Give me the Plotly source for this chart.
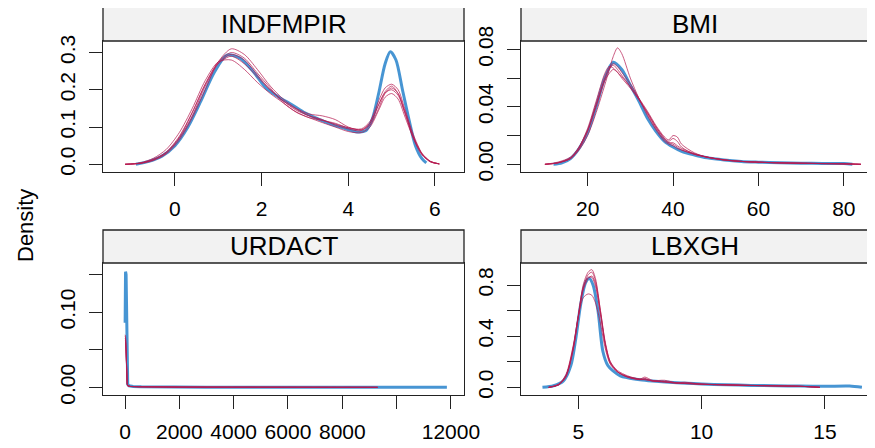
import plotly.graph_objects as go

# ---------------- data ----------------
panel_titles = ["INDFMPIR", "BMI", "URDACT", "LBXGH"]

# INDFMPIR
ind_obs_x = [-0.9, -0.6, -0.3, 0.0, 0.3, 0.6, 0.9, 1.2, 1.5, 1.8, 2.1, 2.4, 2.7, 3.0, 3.3, 3.6, 3.9, 4.2, 4.4, 4.55, 4.7, 4.85, 4.97, 5.1, 5.25, 5.4, 5.55, 5.7, 5.8]
ind_obs_y = [0.0, 0.008, 0.022, 0.05, 0.1, 0.17, 0.245, 0.293, 0.285, 0.25, 0.205, 0.18, 0.16, 0.138, 0.122, 0.108, 0.097, 0.087, 0.09, 0.12, 0.19, 0.27, 0.302, 0.28, 0.2, 0.12, 0.05, 0.015, 0.004]
ind_imp_x = [-1.15, -0.8, -0.5, -0.2, 0.1, 0.4, 0.7, 1.0, 1.3, 1.6, 1.9, 2.2, 2.5, 2.8, 3.1, 3.4, 3.7, 4.0, 4.3, 4.5, 4.7, 4.85, 5.0, 5.15, 5.3, 5.5, 5.7, 5.9, 6.1]
ind_imp_1 = [0.0, 0.003, 0.012, 0.03, 0.07, 0.13, 0.21, 0.27, 0.29, 0.27, 0.235, 0.2, 0.17, 0.145, 0.13, 0.12, 0.105, 0.095, 0.09, 0.11, 0.16, 0.195, 0.21, 0.19, 0.14, 0.07, 0.025, 0.006, 0.001]
ind_imp_2 = [0.0, 0.002, 0.01, 0.028, 0.065, 0.125, 0.2, 0.275, 0.31, 0.295, 0.255, 0.21, 0.175, 0.15, 0.135, 0.13, 0.12, 0.1, 0.092, 0.105, 0.15, 0.19, 0.205, 0.19, 0.145, 0.075, 0.028, 0.007, 0.001]
ind_imp_3 = [0.0, 0.004, 0.016, 0.04, 0.085, 0.15, 0.225, 0.275, 0.28, 0.255, 0.22, 0.19, 0.165, 0.14, 0.125, 0.112, 0.1, 0.088, 0.085, 0.1, 0.145, 0.18, 0.19, 0.175, 0.13, 0.07, 0.027, 0.007, 0.001]
ind_imp_4 = [0.0, 0.003, 0.013, 0.033, 0.075, 0.14, 0.215, 0.275, 0.3, 0.285, 0.245, 0.205, 0.165, 0.14, 0.125, 0.118, 0.11, 0.098, 0.095, 0.115, 0.17, 0.205, 0.215, 0.2, 0.15, 0.08, 0.03, 0.008, 0.001]
ind_imp_5 = [0.0, 0.003, 0.012, 0.032, 0.072, 0.138, 0.215, 0.272, 0.295, 0.28, 0.24, 0.2, 0.17, 0.148, 0.13, 0.118, 0.108, 0.098, 0.093, 0.11, 0.16, 0.192, 0.2, 0.185, 0.14, 0.074, 0.028, 0.007, 0.001]

# BMI
bmi_obs_x = [12, 14, 16, 18, 20, 22, 24, 26, 28, 30, 32, 34, 36, 38, 40, 42, 45, 48, 52, 56, 60, 65, 70, 75, 80, 82]
bmi_obs_y = [0.0, 0.001, 0.004, 0.011, 0.022, 0.04, 0.06, 0.071, 0.066, 0.055, 0.044, 0.032, 0.023, 0.016, 0.012, 0.009, 0.0065, 0.0045, 0.003, 0.002, 0.0015, 0.001, 0.0008, 0.0006, 0.0005, 0.0]
bmi_imp_x = [10, 13, 16, 18, 20, 22, 24, 25, 26, 27, 28, 30, 32, 34, 36, 38, 39, 40, 41, 42, 45, 48, 52, 56, 60, 65, 70, 75, 80, 84]
bmi_imp_1 = [0, 0.001, 0.004, 0.01, 0.02, 0.036, 0.055, 0.065, 0.075, 0.081, 0.077, 0.06, 0.046, 0.034, 0.024, 0.016, 0.014, 0.013, 0.011, 0.01, 0.007, 0.005, 0.003, 0.002, 0.0015, 0.001, 0.0008, 0.0006, 0.0004, 0]
bmi_imp_2 = [0, 0.0015, 0.005, 0.012, 0.025, 0.044, 0.063, 0.068, 0.067, 0.064, 0.06, 0.053, 0.045, 0.036, 0.026, 0.018, 0.016, 0.018, 0.016, 0.012, 0.007, 0.005, 0.003, 0.002, 0.0015, 0.001, 0.0008, 0.0005, 0.0003, 0]
bmi_imp_3 = [0, 0.001, 0.004, 0.011, 0.023, 0.04, 0.058, 0.063, 0.066, 0.064, 0.061, 0.054, 0.046, 0.037, 0.027, 0.019, 0.017, 0.02, 0.019, 0.014, 0.008, 0.005, 0.0032, 0.002, 0.0014, 0.001, 0.0007, 0.0005, 0.0003, 0]
bmi_imp_4 = [0, 0.001, 0.0045, 0.012, 0.024, 0.042, 0.06, 0.067, 0.07, 0.068, 0.064, 0.056, 0.046, 0.035, 0.025, 0.017, 0.015, 0.015, 0.013, 0.011, 0.0075, 0.0048, 0.003, 0.002, 0.0015, 0.001, 0.0007, 0.0005, 0.0003, 0]
bmi_imp_5 = [0, 0.001, 0.004, 0.011, 0.023, 0.041, 0.059, 0.066, 0.069, 0.066, 0.062, 0.054, 0.045, 0.036, 0.026, 0.018, 0.015, 0.014, 0.012, 0.01, 0.007, 0.005, 0.003, 0.002, 0.0014, 0.001, 0.0007, 0.0005, 0.0003, 0]

# URDACT
urd_obs_x = [5, 10, 20, 40, 60, 80, 100, 150, 300, 600, 1000, 1500, 2000, 3000, 4000, 5000, 6000, 7000, 8000, 9000, 10000, 11000, 11850]
urd_obs_y = [0.086, 0.13, 0.154, 0.15, 0.085, 0.02, 0.004, 0.002, 0.0012, 0.0008, 0.0006, 0.0005, 0.0004, 0.0002, 0.0002, 0.0003, 0.0003, 0.0001, 0.0001, 0.0001, 0.0001, 0.0001, 0.0]
urd_imp_x = [5, 20, 40, 60, 80, 100, 200, 500, 1000, 2000, 4000, 6000, 8000, 9300]
urd_imp_1 = [0.07, 0.068, 0.05, 0.02, 0.005, 0.002, 0.0012, 0.0008, 0.0005, 0.0003, 0.0002, 0.0002, 0.0001, 0.0]
urd_imp_2 = [0.065, 0.064, 0.048, 0.019, 0.005, 0.002, 0.0012, 0.0008, 0.0005, 0.0003, 0.0002, 0.0002, 0.0001, 0.0]
urd_imp_3 = [0.06, 0.06, 0.045, 0.018, 0.004, 0.002, 0.0011, 0.0007, 0.0005, 0.0003, 0.0002, 0.0001, 0.0001, 0.0]
urd_imp_4 = [0.068, 0.066, 0.05, 0.02, 0.005, 0.002, 0.0012, 0.0008, 0.0005, 0.0003, 0.0002, 0.0002, 0.0001, 0.0]
urd_imp_5 = [0.063, 0.062, 0.047, 0.019, 0.005, 0.002, 0.0011, 0.0008, 0.0005, 0.0003, 0.0002, 0.0001, 0.0001, 0.0]

# LBXGH
gh_obs_x = [3.55, 4.0, 4.4, 4.7, 4.9, 5.1, 5.3, 5.45, 5.6, 5.8, 6.0, 6.2, 6.4, 6.7, 7.0, 7.5, 8.0, 9.0, 10.0, 11.0, 12.0, 13.0, 14.0, 15.0, 16.0, 16.5]
gh_obs_y = [0.0, 0.012, 0.05, 0.17, 0.38, 0.65, 0.82, 0.85, 0.8, 0.6, 0.28, 0.17, 0.13, 0.09, 0.075, 0.06, 0.05, 0.035, 0.026, 0.02, 0.015, 0.012, 0.01, 0.008, 0.01, 0.0]
gh_imp_x = [3.8, 4.2, 4.5, 4.8, 5.0, 5.2, 5.4, 5.55, 5.7, 5.9, 6.1, 6.3, 6.6, 7.0, 7.5, 7.7, 8.0, 8.5, 9.0, 9.3, 10.0, 11.0, 12.0, 13.0, 14.0, 14.8]
gh_imp_1 = [0, 0.02, 0.08, 0.3, 0.55, 0.8, 0.9, 0.92, 0.85, 0.6, 0.35, 0.2, 0.12, 0.08, 0.06, 0.07, 0.05, 0.045, 0.035, 0.04, 0.025, 0.02, 0.015, 0.012, 0.008, 0]
gh_imp_2 = [0, 0.025, 0.1, 0.33, 0.55, 0.7, 0.73, 0.72, 0.66, 0.5, 0.3, 0.18, 0.12, 0.085, 0.065, 0.06, 0.05, 0.04, 0.032, 0.03, 0.024, 0.018, 0.014, 0.011, 0.008, 0]
gh_imp_3 = [0, 0.02, 0.09, 0.32, 0.56, 0.78, 0.86, 0.86, 0.79, 0.57, 0.33, 0.19, 0.12, 0.08, 0.06, 0.06, 0.05, 0.042, 0.033, 0.035, 0.025, 0.019, 0.015, 0.012, 0.008, 0]
gh_imp_4 = [0, 0.018, 0.085, 0.3, 0.54, 0.77, 0.88, 0.9, 0.83, 0.6, 0.34, 0.2, 0.13, 0.09, 0.065, 0.08, 0.055, 0.045, 0.035, 0.03, 0.025, 0.02, 0.015, 0.011, 0.008, 0]
gh_imp_5 = [0, 0.02, 0.09, 0.31, 0.55, 0.76, 0.85, 0.87, 0.81, 0.58, 0.33, 0.19, 0.12, 0.082, 0.062, 0.065, 0.052, 0.055, 0.034, 0.032, 0.024, 0.019, 0.014, 0.011, 0.008, 0]

# ticks
ind_xticks = [0, 2, 4, 6]
ind_yticks = [0.0, 0.1, 0.2, 0.3]
ind_ytext = ["0.0", "0.1", "0.2", "0.3"]
bmi_xticks = [20, 40, 60, 80]
bmi_yticks = [0.0, 0.02, 0.04, 0.06, 0.08]
bmi_ytext = ["0.00", "", "0.04", "", "0.08"]
urd_xticks = [0, 2000, 4000, 6000, 8000, 10000, 12000]
urd_xtext = ["0", "2000", "4000", "6000", "8000", "", "12000"]
urd_yticks = [0.0, 0.05, 0.10, 0.15]
urd_ytext = ["0.00", "", "0.10", ""]
gh_xticks = [5, 10, 15]
gh_yticks = [0.0, 0.2, 0.4, 0.6, 0.8]
gh_ytext = ["0.0", "", "0.4", "", "0.8"]

y_label = "Density"
caption = "Figure 3: Density plots of the observed and imputed data"

# ---------------- figure ----------------
OFF = 8                      # page body margin
W, H = 875 - OFF, 448 - OFF  # figure fits the window after the margin
BLUE = "rgba(0,108,194,0.72)"
RED = "rgba(182,26,81,0.72)"
FONT = "Liberation Sans, Arial, sans-serif"

def px(x):
    return (x - OFF) / W

def py(y):
    return 1 - (y - OFF) / H

# panel pixel boxes in window pixels: (left, right, plot_top, plot_bottom, strip_top)
boxes = [
    (103, 464, 41, 172, 7),
    (521, 875, 41, 172, 7),
    (103, 464, 263, 395, 230),
    (521, 875, 263, 395, 230),
]

panels = [
    (ind_obs_x, ind_obs_y, ind_imp_x, [ind_imp_1, ind_imp_2, ind_imp_3, ind_imp_4, ind_imp_5], "spline"),
    (bmi_obs_x, bmi_obs_y, bmi_imp_x, [bmi_imp_1, bmi_imp_2, bmi_imp_3, bmi_imp_4, bmi_imp_5], "spline"),
    (urd_obs_x, urd_obs_y, urd_imp_x, [urd_imp_1, urd_imp_2, urd_imp_3, urd_imp_4, urd_imp_5], "linear"),
    (gh_obs_x, gh_obs_y, gh_imp_x, [gh_imp_1, gh_imp_2, gh_imp_3, gh_imp_4, gh_imp_5], "spline"),
]

fig = go.Figure()
for i, (ox, oy, ix, imps, shape) in enumerate(panels):
    xa = "x" if i == 0 else f"x{i+1}"
    ya = "y" if i == 0 else f"y{i+1}"
    fig.add_trace(go.Scatter(x=ox, y=oy, mode="lines", xaxis=xa, yaxis=ya,
                             line=dict(color=BLUE, width=3, shape=shape, smoothing=0.8),
                             showlegend=False, hoverinfo="skip"))
    for iy in imps:
        fig.add_trace(go.Scatter(x=ix, y=iy, mode="lines", xaxis=xa, yaxis=ya,
                                 line=dict(color=RED, width=1, shape=shape, smoothing=0.8),
                                 showlegend=False, hoverinfo="skip"))

ranges = [
    ([-1.66, 6.67], [-0.0207, 0.331]),
    ([4.4, 87.3], [-0.00536, 0.0858]),
    ([-810, 12480], [-0.0102, 0.1655]),
    ([2.68, 17.03], [-0.06, 0.972]),
]
xtick_sets = [
    (ind_xticks, [str(v) for v in ind_xticks]),
    (bmi_xticks, [str(v) for v in bmi_xticks]),
    (urd_xticks, urd_xtext),
    (gh_xticks, [str(v) for v in gh_xticks]),
]
ytick_sets = [
    (ind_yticks, ind_ytext),
    (bmi_yticks, bmi_ytext),
    (urd_yticks, urd_ytext),
    (gh_yticks, gh_ytext),
]

layout = {}
shapes = []
annotations = []
for i, (l, r, t, b, st) in enumerate(boxes):
    sfx = "" if i == 0 else str(i + 1)
    right_panel = i in (1, 3)
    common = dict(showgrid=False, zeroline=False, showline=True, linecolor="#222",
                  linewidth=1.3, ticks="outside", ticklen=13, tickwidth=1,
                  tickcolor="#222", automargin=False,
                  tickfont=dict(family=FONT, size=21, color="black"))
    layout["xaxis" + sfx] = dict(domain=[px(l), min(px(r), 1.0)], anchor="y" + sfx,
                                 range=ranges[i][0], tickmode="array",
                                 tickvals=xtick_sets[i][0], ticktext=xtick_sets[i][1],
                                 mirror=True, ticklabelstandoff=5, **common)
    layout["yaxis" + sfx] = dict(domain=[py(b), py(t)], anchor="x" + sfx,
                                 range=ranges[i][1], tickmode="array",
                                 tickvals=ytick_sets[i][0], ticktext=ytick_sets[i][1],
                                 tickangle=-90, mirror=(not right_panel),
                                 ticklabelstandoff=5, **common)
    x1 = 1.02 if right_panel else px(r)
    shapes.append(dict(type="rect", xref="paper", yref="paper", x0=px(l), x1=x1,
                       y0=py(t), y1=py(st), fillcolor="#F2F2F2",
                       line=dict(color="#222", width=1.3), layer="above"))
    cx = (l + 869) / 2 if right_panel else (l + r) / 2
    annotations.append(dict(xref="paper", yref="paper", x=px(cx),
                            y=py((t + st) / 2), text=panel_titles[i], showarrow=False,
                            xanchor="center", yanchor="middle",
                            font=dict(family=FONT, size=26, color="black")))

annotations.append(dict(xref="paper", yref="paper", x=px(25), y=py(226), text=y_label,
                        textangle=-90, showarrow=False, xanchor="center", yanchor="middle",
                        font=dict(family=FONT, size=22, color="black")))
annotations.append(dict(xref="paper", yref="paper", x=px(183), y=py(441.5), text=caption,
                        showarrow=False, xanchor="left", yanchor="top",
                        font=dict(family=FONT, size=22, color="#555")))

fig.update_layout(template="none", width=W, height=H,
                  margin=dict(l=0, r=0, t=0, b=0, pad=0, autoexpand=False),
                  paper_bgcolor="white", plot_bgcolor="white",
                  shapes=shapes, annotations=annotations, **layout)

fig.write_html("out.html")
